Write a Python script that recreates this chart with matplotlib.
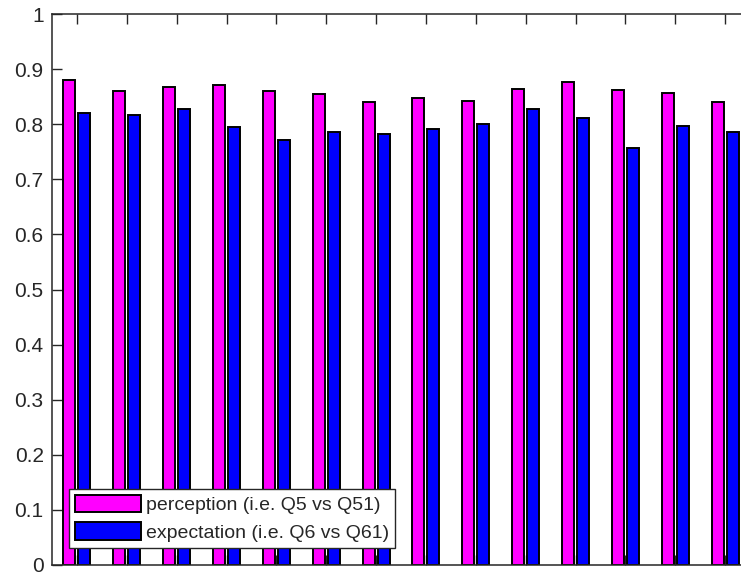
import matplotlib
matplotlib.use("Agg")
import matplotlib.pyplot as plt
import numpy as np

plt.rcParams['font.family'] = ['Liberation Sans', 'DejaVu Sans']

# Correlation per group for the two question pairs
perception = [0.881, 0.860, 0.867, 0.871, 0.860, 0.855, 0.840, 0.847,
              0.843, 0.864, 0.876, 0.862, 0.857, 0.841]
expectation = [0.821, 0.816, 0.828, 0.795, 0.772, 0.785, 0.782, 0.791,
               0.801, 0.827, 0.812, 0.756, 0.797, 0.786]
series_labels = ["perception (i.e. Q5 vs Q51)", "expectation (i.e. Q6 vs Q61)"]
yticks = [0, 0.1, 0.2, 0.3, 0.4, 0.5, 0.6, 0.7, 0.8, 0.9, 1]
ytick_labels = ["0", "0.1", "0.2", "0.3", "0.4", "0.5", "0.6", "0.7", "0.8", "0.9", "1"]

dark = "#262626"
fig = plt.figure(figsize=(7.41, 5.79), dpi=100)
ax = fig.add_axes([52.0 / 741, 14.0 / 579, 698.0 / 741, 551.0 / 579])

x = np.arange(1, len(perception) + 1)
w = 0.24
off = 0.15
ax.bar(x - off, perception, width=w, color="#ff00ff", edgecolor="black",
       linewidth=1.4, label=series_labels[0], zorder=2)
ax.bar(x + off, expectation, width=w, color="#0000ff", edgecolor="black",
       linewidth=1.4, label=series_labels[1], zorder=2)

ax.set_xlim(0.5, len(perception) + 0.5)
ax.set_ylim(0, 1)
ax.set_xticks(x)
ax.set_xticklabels([])
ax.set_yticks(yticks)
ax.set_yticklabels(ytick_labels)
ax.tick_params(axis="both", direction="in", length=7, width=1, color=dark,
               labelcolor=dark, labelsize=15, top=True, bottom=True,
               zorder=3)
ax.tick_params(axis="y", pad=6)
for s in ax.spines.values():
    s.set_color(dark)
    s.set_linewidth(1.1)
    s.set_zorder(4)

leg = ax.legend(loc="lower left", bbox_to_anchor=(0.0244, 0.031),
                borderaxespad=0, fontsize=14, handlelength=3.35,
                handleheight=1.0, handletextpad=0.26, labelspacing=0.4,
                borderpad=0.33, fancybox=False, framealpha=1,
                edgecolor=dark)
leg.get_frame().set_linewidth(1.0)
for t in leg.get_texts():
    t.set_color(dark)

fig.savefig("out.png", dpi=100)
